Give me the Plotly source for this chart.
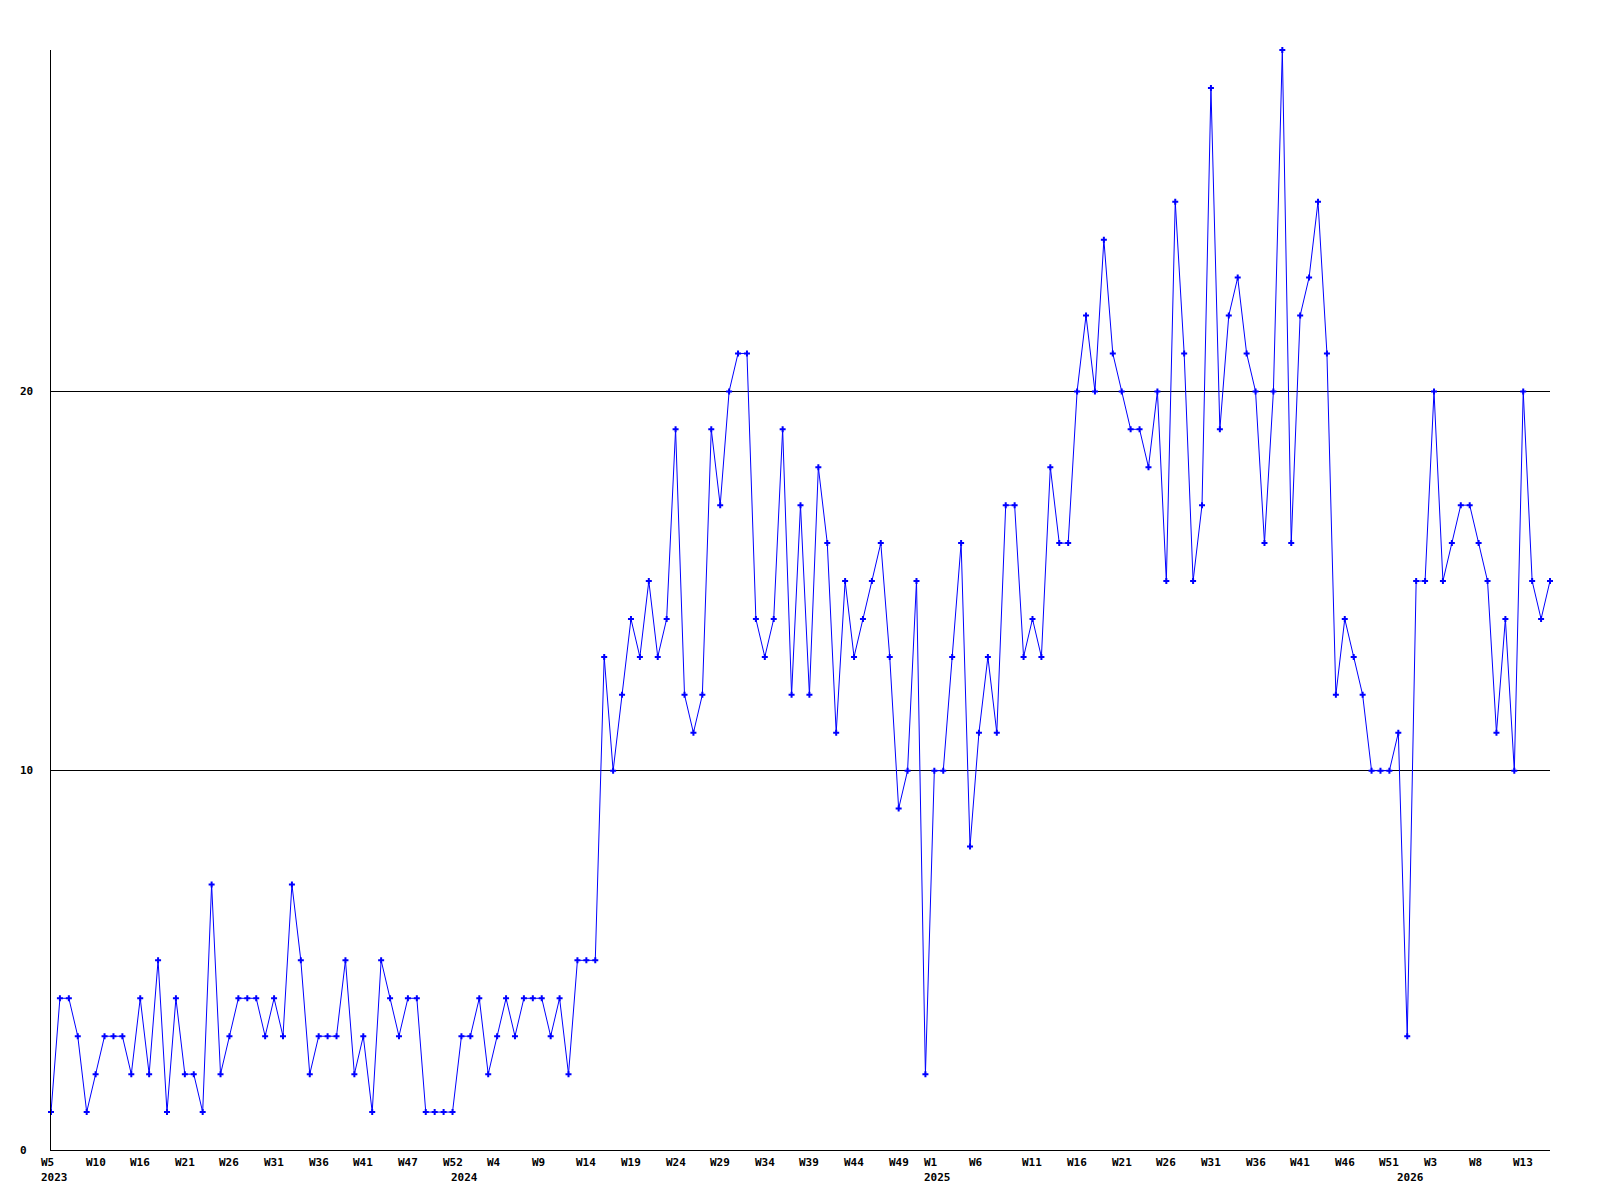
import plotly.graph_objects as go

# Weekly values (one point per sample, left to right)
values = [
    1, 4, 4, 3, 1, 2, 3, 3, 3, 2, 4, 2, 5, 1, 4, 2, 2, 1, 7, 2, 3, 4, 4, 4, 3, 4, 3, 7, 5, 2,
    3, 3, 3, 5, 2, 3, 1, 5, 4, 3, 4, 4, 1, 1, 1, 1, 3, 3, 4, 2, 3, 4, 3, 4, 4, 4, 3, 4, 2,
    5, 5, 5, 13, 10, 12, 14, 13, 15, 13, 14, 19, 12, 11, 12, 19, 17, 20, 21, 21, 14, 13, 14, 19, 12, 17, 12,
    18, 16, 11, 15, 13, 14, 15, 16, 13, 9, 10, 15, 2, 10, 10, 13, 16, 8, 11, 13, 11, 17, 17, 13, 14, 13, 18,
    16, 16, 20, 22, 20, 24, 21, 20, 19, 19, 18, 20, 15, 25, 21, 15, 17, 28, 19, 22, 23, 21, 20, 16, 20, 29, 16, 22,
    23, 25, 21, 12, 14, 13, 12, 10, 10, 10, 11, 3, 15, 15, 20, 15, 16, 17, 17, 16, 15, 11, 14, 10, 20, 15, 14, 15,
]

# Week tick labels and the sample index they sit at
week_tick_idx = [0, 5, 10, 15, 20, 25, 30, 35, 40, 45, 50, 55, 60, 65, 70, 75, 80, 85, 90, 95,
                 99, 104, 110, 115, 120, 125, 130, 135, 140, 145, 150, 155, 160, 165]
week_tick_text = ["W5", "W10", "W16", "W21", "W26", "W31", "W36", "W41", "W47", "W52",
                  "W4", "W9", "W14", "W19", "W24", "W29", "W34", "W39", "W44", "W49",
                  "W1", "W6", "W11", "W16", "W21", "W26", "W31", "W36", "W41", "W46",
                  "W51", "W3", "W8", "W13"]

# Year labels and the sample index they sit at
year_idx = [0, 46, 99, 152]
year_text = ["2023", "2024", "2025", "2026"]

# Y axis labelled values
y_ticks = [0, 10, 20]

FONT = dict(family="DejaVu Sans Mono", size=11, color="black", weight="bold")

x_idx = list(range(len(values)))

fig = go.Figure()
fig.add_trace(go.Scatter(
    x=x_idx, y=values,
    mode="lines+markers",
    line=dict(color="#0000ff", width=1),
    marker=dict(symbol="cross", size=5, color="#0000ff"),
    cliponaxis=False,
    hoverinfo="skip",
))

annotations = []
for i, t in zip(week_tick_idx, week_tick_text):
    annotations.append(dict(x=i, y=0, xref="x", yref="paper", text=t, showarrow=False,
                            xanchor="left", yanchor="middle", xshift=-12, yshift=-12.5,
                            font=FONT))
for i, t in zip(year_idx, year_text):
    annotations.append(dict(x=i, y=0, xref="x", yref="paper", text=t, showarrow=False,
                            xanchor="left", yanchor="middle", xshift=-12, yshift=-27,
                            font=FONT))
for v in y_ticks:
    annotations.append(dict(x=0, y=v, xref="paper", yref="y", text=str(v), showarrow=False,
                            xanchor="left", yanchor="middle", xshift=-33,
                            font=FONT))

# page body has an 8px margin, so the figure is sized to fit inside it
fig.update_layout(
    width=1584, height=1184,
    margin=dict(l=43, r=42, t=41.5, b=42, autoexpand=False),
    paper_bgcolor="white", plot_bgcolor="white",
    showlegend=False,
    annotations=annotations,
    xaxis=dict(range=[0, len(values) - 1], showgrid=False, zeroline=False,
               showline=True, linecolor="black", linewidth=1,
               showticklabels=False, ticks=""),
    yaxis=dict(range=[0, max(values)], tickvals=y_ticks, showgrid=True,
               gridcolor="black", gridwidth=1, zeroline=False,
               showline=True, linecolor="black", linewidth=1,
               showticklabels=False, ticks=""),
)

fig.write_html("out.html")
